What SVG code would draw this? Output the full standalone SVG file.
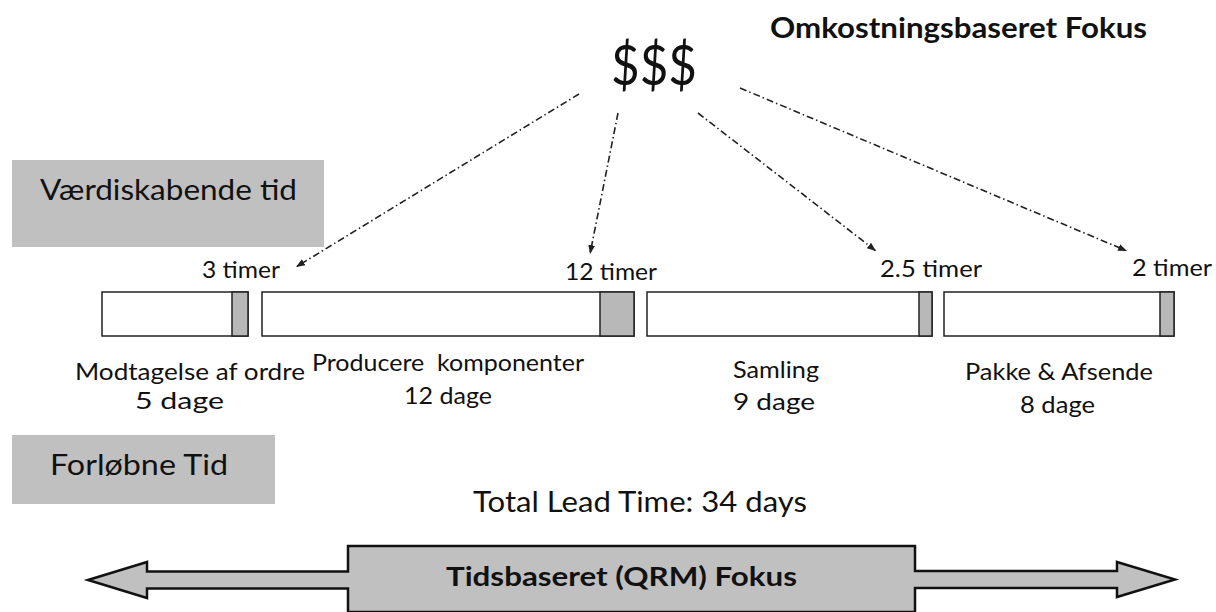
<svg xmlns="http://www.w3.org/2000/svg" width="1216" height="612" viewBox="0 0 1216 612">
<style>
text{font-family:Lato,"Open Sans","Liberation Sans",sans-serif;fill:#111}
.lbl{font-size:23px}
.big{font-size:29px}
.b{font-weight:bold}
.bar{fill:#fff;stroke:#222;stroke-width:1.5}
.va{fill:#b8b8b8;stroke:#222;stroke-width:1.5}
.tag{fill:#c0c0c0}
.dd{fill:none;stroke:#222;stroke-width:1.6;stroke-dasharray:7 3 1.5 3;marker-end:url(#ah)}
.fat{fill:#c0c0c0;stroke:#111;stroke-width:2.5;stroke-linejoin:miter}
</style>
<defs>
<marker id="ah" markerUnits="userSpaceOnUse" markerWidth="10" markerHeight="10" viewBox="0 0 10 10" refX="9" refY="5" orient="auto">
<path d="M0,1.5 L9,5 L0,8.5 Z" fill="#222"/>
</marker>
</defs>
<rect width="1216" height="612" fill="#fff"/>

<g id="title-cost">
<text class="b" x="770" y="38" font-size="28" textLength="377" lengthAdjust="spacingAndGlyphs">Omkostningsbaseret Fokus</text>
</g>
<g id="dollars">
<text x="611" y="85" font-size="57" textLength="86" lengthAdjust="spacingAndGlyphs">$$$</text>
</g>

<g id="vaerdi">
<rect class="tag" x="12" y="160" width="312" height="87"/>
<text class="big" x="40" y="200" textLength="257" lengthAdjust="spacingAndGlyphs">Værdiskabende tid</text>
</g>
<g id="forlobne">
<rect class="tag" x="12" y="435" width="263" height="69"/>
<text class="big" x="50" y="475" textLength="178" lengthAdjust="spacingAndGlyphs">Forløbne Tid</text>
</g>

<g id="step1">
<rect class="bar" x="102" y="292" width="146" height="44"/>
<rect class="va" x="232" y="292" width="16" height="44"/>
<text class="lbl" x="202" y="278" textLength="78" lengthAdjust="spacingAndGlyphs">3 timer</text>
<text class="lbl" x="75" y="380" textLength="230" lengthAdjust="spacingAndGlyphs">Modtagelse af ordre</text>
<text class="lbl" x="135" y="409" textLength="89" lengthAdjust="spacingAndGlyphs">5 dage</text>
</g>
<g id="step2">
<rect class="bar" x="262" y="292" width="372" height="44"/>
<rect class="va" x="600" y="292" width="34" height="44"/>
<text class="lbl" x="565" y="280" textLength="92" lengthAdjust="spacingAndGlyphs">12 timer</text>
<text class="lbl" x="312" y="371" textLength="272" lengthAdjust="spacingAndGlyphs" xml:space="preserve">Producere  komponenter</text>
<text class="lbl" x="404" y="404" textLength="88" lengthAdjust="spacingAndGlyphs">12 dage</text>
</g>
<g id="step3">
<rect class="bar" x="647" y="292" width="285" height="44"/>
<rect class="va" x="919" y="292" width="13" height="44"/>
<text class="lbl" x="880" y="277" textLength="102" lengthAdjust="spacingAndGlyphs">2.5 timer</text>
<text class="lbl" x="733" y="378" textLength="86" lengthAdjust="spacingAndGlyphs">Samling</text>
<text class="lbl" x="733" y="410" textLength="82" lengthAdjust="spacingAndGlyphs">9 dage</text>
</g>
<g id="step4">
<rect class="bar" x="944" y="292" width="230" height="44"/>
<rect class="va" x="1160" y="292" width="14" height="44"/>
<text class="lbl" x="1132" y="276" textLength="80" lengthAdjust="spacingAndGlyphs">2 timer</text>
<text class="lbl" x="965" y="380" textLength="188" lengthAdjust="spacingAndGlyphs">Pakke &amp; Afsende</text>
<text class="lbl" x="1020" y="413" textLength="75" lengthAdjust="spacingAndGlyphs">8 dage</text>
</g>

<g id="total">
<text x="473" y="512" font-size="28" textLength="334" lengthAdjust="spacingAndGlyphs">Total Lead Time: 34 days</text>
</g>

<g id="qrm">
<path class="fat" d="M88,580 L147,562 L147,571.5 L348,571.5 L348,546 L915,546 L915,571 L1117,571 L1117,562 L1175,579.5 L1117,597 L1117,588 L915,588 L915,612 L348,612 L348,588.5 L147,588.5 L147,598 Z"/>
<text class="b" x="446" y="586" font-size="26" textLength="351" lengthAdjust="spacingAndGlyphs">Tidsbaseret (QRM) Fokus</text>
</g>

<g id="connectors">
<line class="dd" x1="579" y1="94" x2="296" y2="267"/>
<line class="dd" x1="618" y1="113" x2="590" y2="254"/>
<line class="dd" x1="698" y1="113" x2="876" y2="251"/>
<line class="dd" x1="740" y1="88" x2="1127" y2="251"/>
</g>
</svg>
